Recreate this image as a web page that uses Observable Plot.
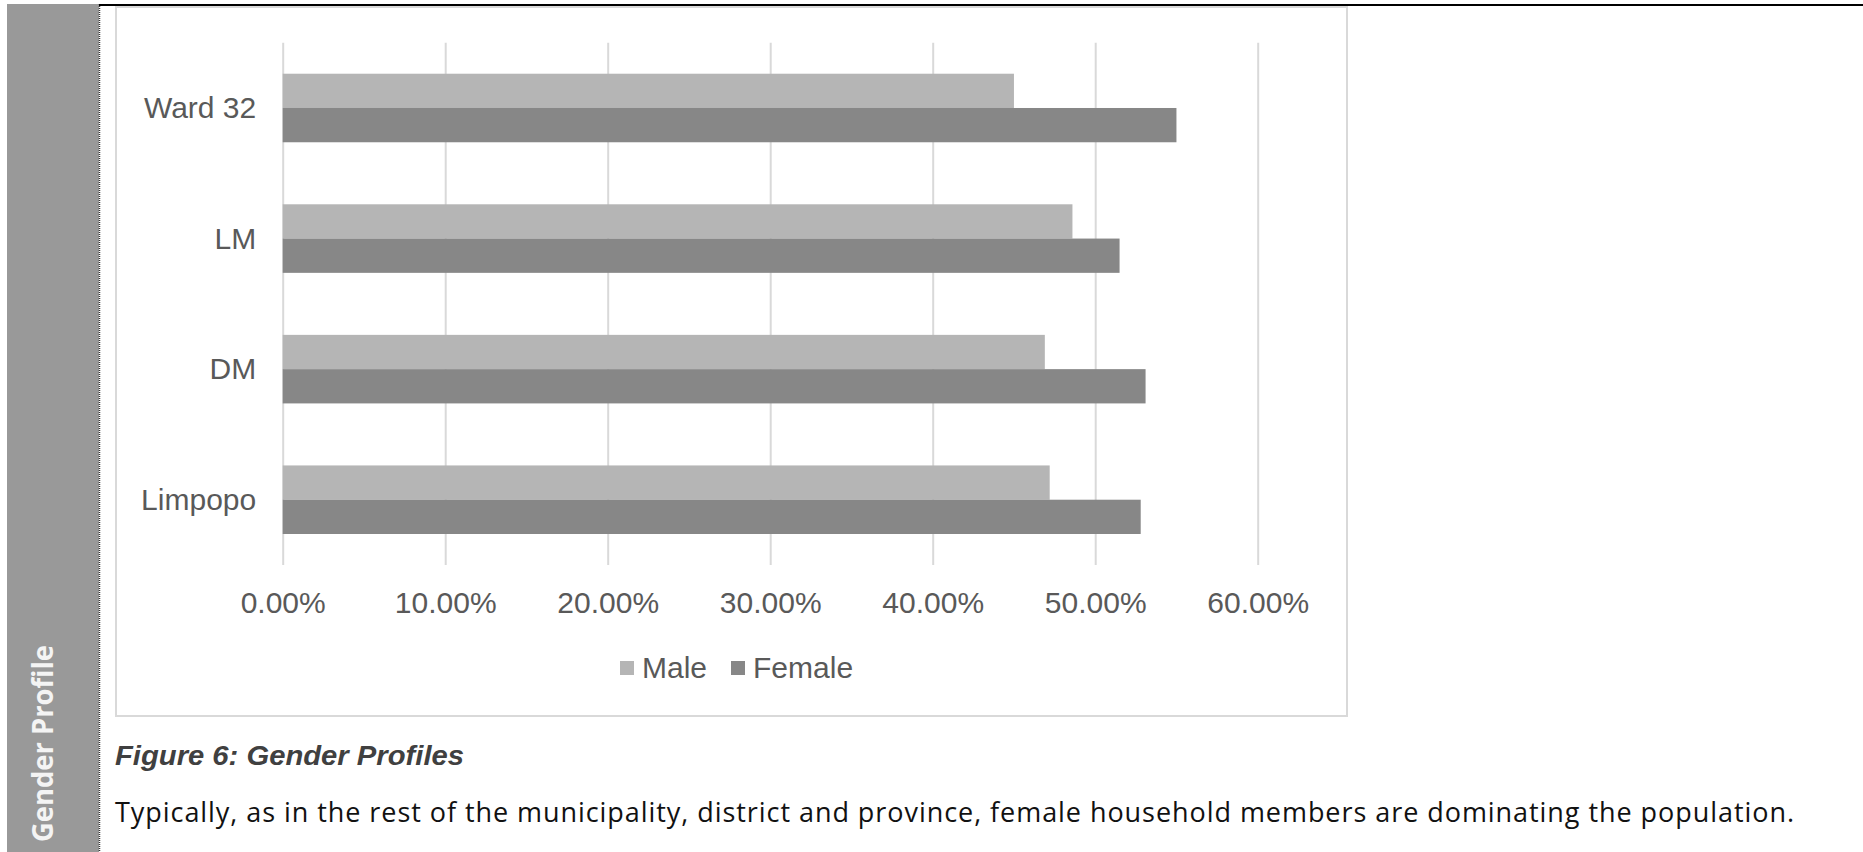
<!DOCTYPE html>
<html>
<head>
<meta charset="utf-8">
<script src="https://cdn.jsdelivr.net/npm/d3@7"></script>
<script src="https://cdn.jsdelivr.net/npm/@observablehq/plot@0.6"></script>
<style>
  html, body { margin: 0; padding: 0; background: #fff; }
  #page { position: relative; width: 1863px; height: 852px; overflow: hidden; background: #fff; }
  #frame { position: absolute; left: 0; top: 0; }
  #chart { position: absolute; left: 117px; top: 8px; }
  #legend {
    position: absolute; left: 620px; top: 653px; height: 30px;
    display: flex; align-items: center; gap: 24px;
    font: 30px "Liberation Sans", Arial, sans-serif; line-height: 30px; color: #595959;
  }
  #legend .item { display: flex; align-items: center; }
  #legend .sw { width: 14px; height: 14px; margin-right: 8px; }
</style>
</head>
<body>
<div id="page">
  <svg id="frame" width="1863" height="852">
    <!-- side tab -->
    <rect x="7" y="4" width="92" height="848" fill="#999999"></rect>
    <line x1="99.5" y1="4" x2="99.5" y2="852" stroke="#333" stroke-width="1.5" stroke-dasharray="1 1"></line>
    <rect x="99" y="4" width="1764" height="2" fill="#000"></rect>
    <text transform="translate(53,842) rotate(-90)" textLength="197" lengthAdjust="spacingAndGlyphs"
          font-family="'Open Sans', 'DejaVu Sans', sans-serif" font-weight="700" font-size="29" fill="#f4f4f4">Gender Profile</text>
    <!-- chart area border -->
    <rect x="116" y="7" width="1231" height="709" fill="none" stroke="#d9d9d9" stroke-width="2"></rect>
    <!-- figure caption and paragraph -->
    <text x="115" y="765" textLength="349" lengthAdjust="spacingAndGlyphs"
          font-family="'Liberation Sans', Arial, sans-serif" font-weight="700" font-style="italic" font-size="28" fill="#404040">Figure 6: Gender Profiles</text>
    <text x="115" y="822" textLength="1679" lengthAdjust="spacing"
          font-family="'Open Sans', sans-serif" font-size="27" fill="#111">Typically, as in the rest of the municipality, district and province, female household members are dominating the population.</text>
  </svg>
  <div id="chart"></div>
  <div id="legend"></div>
</div>
<script>
// Share of household members by gender
const regions = ["Ward 32", "LM", "DM", "Limpopo"];
const maleShare = [0.450, 0.486, 0.469, 0.472];
const femaleShare = [0.550, 0.515, 0.531, 0.528];
const genders = ["Male", "Female"];
const genderColors = ["#b5b5b5", "#878787"];
const xTicks = [0, 0.1, 0.2, 0.3, 0.4, 0.5, 0.6];

const rows = regions.flatMap((region, i) => [
  {region, gender: "Male", share: maleShare[i]},
  {region, gender: "Female", share: femaleShare[i]}
]);

const width = 1229, height = 632;
const marginTop = 34.7, marginBottom = 75, marginLeft = 165.7, marginRight = 88.3;
const padIn = 0.475, padOut = 0.2375;

// each region's band holds two bars: male on top, female below
const plotH = height - marginTop - marginBottom;
const band = plotH / (regions.length - padIn + 2 * padOut) * (1 - padIn);
const half = band / 2;

const pct = d3.format(".2%");

const chart = Plot.plot({
  width, height, marginTop, marginBottom, marginLeft, marginRight,
  style: {
    fontFamily: "'Liberation Sans', Arial, sans-serif",
    fontSize: "30px",
    color: "#595959",
    background: "transparent"
  },
  x: {domain: [0, 0.6], ticks: xTicks, tickFormat: pct, tickSize: 0, tickPadding: 26, label: null},
  y: {domain: regions, paddingInner: padIn, paddingOuter: padOut, round: false, tickSize: 0, tickPadding: 27, label: null},
  color: {domain: genders, range: genderColors},
  marks: [
    Plot.ruleX(xTicks, {stroke: "#d9d9d9", strokeWidth: 2}),
    Plot.barX(rows.filter(d => d.gender === "Male"), {x: "share", y: "region", fill: "gender", insetBottom: half}),
    Plot.barX(rows.filter(d => d.gender === "Female"), {x: "share", y: "region", fill: "gender", insetTop: half})
  ]
});
document.getElementById("chart").appendChild(chart);

// legend
const legend = d3.select("#legend");
genders.forEach((g, i) => {
  const item = legend.append("div").attr("class", "item");
  item.append("div").attr("class", "sw").style("background", genderColors[i]);
  item.append("span").text(g);
});
</script>
</body>
</html>
